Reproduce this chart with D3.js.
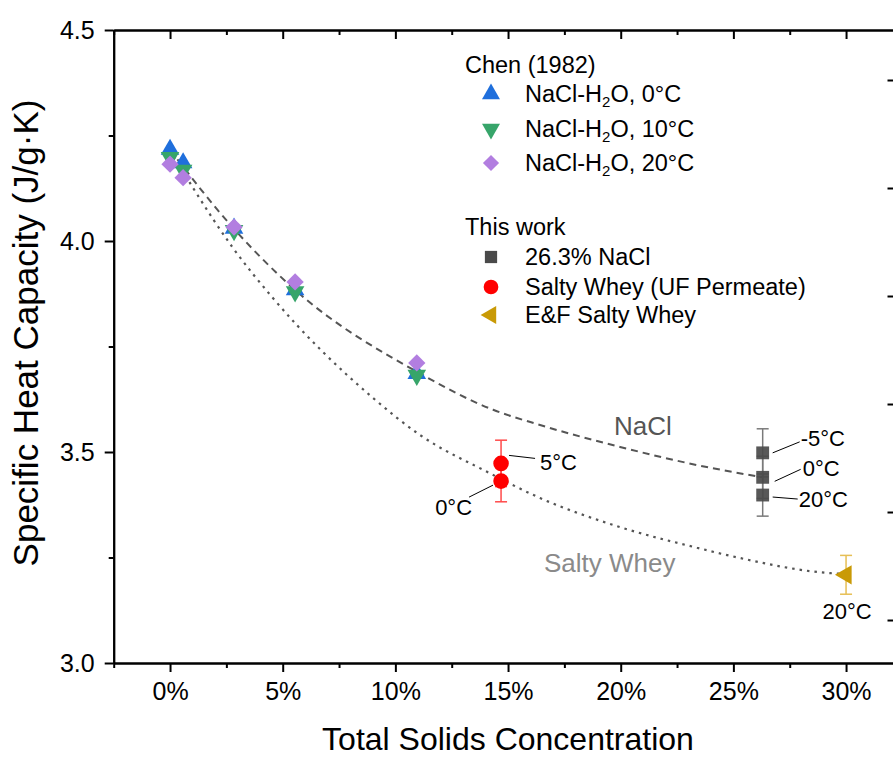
<!DOCTYPE html>
<html><head><meta charset="utf-8">
<script src="https://cdn.jsdelivr.net/npm/d3@7"></script>
<style>
body{margin:0;background:#fff;}
text{font-family:"Liberation Sans",Arial,sans-serif;}
</style></head>
<body><svg id="c" width="893" height="758"></svg>
<script>
// ---- data ----
const chenX = [0, 0.58, 2.84, 5.55, 10.95];
const chen0C = [4.217, 4.185, 4.030, 3.884, 3.686];
const chen10C = [4.198, 4.168, 4.025, 3.880, 3.682];
const chen20C = [4.182, 4.150, 4.033, 3.903, 3.711];

const naclX = 26.3;
const naclTemps = ["-5°C", "0°C", "20°C"];
const naclCp = [3.498, 3.440, 3.398];
const naclErr = [0.057, 0.05, 0.05];

const wheyX = 14.69;
const wheyTemps = ["0°C", "5°C"];
const wheyCp = [3.431, 3.473];
const wheyErr = [0.049, 0.055];

const efX = 30.0;
const efCp = 3.209;
const efErr = 0.046;

const naclFitX = [0, 2.80, 5.55, 10.96, 14.34, 16.42, 19.97, 23.39, 26.3];
const naclFitY = [4.216, 4.031, 3.884, 3.690, 3.600, 3.564, 3.512, 3.469, 3.440];
const wheyFitX = [0, 1.02, 2.80, 4.53, 9.01, 11.10, 14.07, 16.42, 19.97, 23.39, 24.86, 29.29, 30.0];
const wheyFitY = [4.216, 4.126, 3.983, 3.867, 3.628, 3.540, 3.453, 3.391, 3.322, 3.273, 3.254, 3.213, 3.211];

const xMajor = [0, 5, 10, 15, 20, 25, 30];
const xMinor = [-2.5, 2.5, 7.5, 12.5, 17.5, 22.5, 27.5];
const yMajor = [3.0, 3.5, 4.0, 4.5];
const yMinor = [3.25, 3.75, 4.25];
const rightTicks = [0, 1, 2, 3, 4, 5];

const colBlue = "#1f6fdc", colGreen = "#37a56a", colPurple = "#b27ee0",
      colGrey = "#4a4a4a", colRed = "#ff0000", colGold = "#c99a06";

// ---- scales ----
const svg = d3.select("#c");
const x = d3.scaleLinear().domain([-2.5, 32.15]).range([113.7, 894.5]);
const y = d3.scaleLinear().domain([3.0, 4.5]).range([663, 30]);
const yR = d3.scaleLinear().domain([-0.398, 5.463]).range([663, 30]);

// ---- axes ----
function styleAxis(g){ g.selectAll("path,line").attr("stroke","#000").attr("stroke-width",2); g.selectAll("text").attr("font-size",25).attr("fill","#000").attr("font-family","Liberation Sans, Arial, sans-serif"); }
svg.append("g").attr("transform",`translate(0,${y(3.0)})`)
  .call(d3.axisBottom(x).tickValues(xMajor).tickSize(9).tickSizeOuter(0).tickPadding(10).tickFormat(d=>d+"%")).call(styleAxis);
svg.append("g").attr("transform",`translate(0,${y(3.0)})`)
  .call(d3.axisBottom(x).tickValues(xMinor).tickSize(5).tickSizeOuter(0).tickFormat("")).call(styleAxis);
svg.append("g").attr("transform",`translate(0,${y(4.5)})`)
  .call(d3.axisBottom(x).tickValues(xMajor).tickSize(9).tickSizeOuter(0).tickFormat("")).call(styleAxis);
svg.append("g").attr("transform",`translate(0,${y(4.5)})`)
  .call(d3.axisBottom(x).tickValues(xMinor).tickSize(5).tickSizeOuter(0).tickFormat("")).call(styleAxis);
svg.append("g").attr("transform",`translate(${x(-2.5)},0)`)
  .call(d3.axisLeft(y).tickValues(yMajor).tickSize(9).tickSizeOuter(0).tickPadding(10).tickFormat(d3.format(".1f"))).call(styleAxis);
svg.append("g").attr("transform",`translate(${x(-2.5)},0)`)
  .call(d3.axisLeft(y).tickValues(yMinor).tickSize(5).tickSizeOuter(0).tickFormat("")).call(styleAxis);
svg.append("g").attr("transform",`translate(${x(32.15)},0)`)
  .call(d3.axisLeft(yR).tickValues(rightTicks).tickSize(7).tickSizeOuter(0).tickFormat("")).call(styleAxis);

svg.append("text").attr("x",508).attr("y",750).attr("text-anchor","middle")
  .attr("font-size",32).text("Total Solids Concentration");
svg.append("text").attr("transform",`translate(38,${333}) rotate(-90)`).attr("text-anchor","middle")
  .attr("font-size",35).text("Specific Heat Capacity (J/g·K)");

// ---- fit curves ----
const line = d3.line().x(d=>x(d[0])).y(d=>y(d[1])).curve(d3.curveMonotoneX);
svg.append("path").attr("d", line(wheyFitX.map((v,i)=>[v,wheyFitY[i]])))
  .attr("fill","none").attr("stroke","#555").attr("stroke-width",2.2).attr("stroke-dasharray","2.5,5");
svg.append("path").attr("d", line(naclFitX.map((v,i)=>[v,naclFitY[i]])))
  .attr("fill","none").attr("stroke","#555").attr("stroke-width",2).attr("stroke-dasharray","7,5");

// ---- symbols ----
const sym = (type,size)=>d3.symbol().type(type).size(size)();
function plot(xs, ys, type, size, color, rot){
  svg.append("g").selectAll("path").data(xs).join("path")
    .attr("d", sym(type,size))
    .attr("transform",(d,i)=>`translate(${x(d)},${y(ys[i])}) rotate(${rot||0})`)
    .attr("fill",color);
}
plot(chenX, chen0C, d3.symbolTriangle, 150, colBlue, 0);
plot(chenX, chen10C, d3.symbolTriangle, 150, colGreen, 180);
plot(chenX, chen20C, d3.symbolSquare, 150, colPurple, 45);

// error bars
function errbar(xv, yv, e, color){
  const g = svg.append("g").attr("stroke",color).attr("stroke-width",1.5);
  g.append("line").attr("x1",x(xv)).attr("x2",x(xv)).attr("y1",y(yv+e)).attr("y2",y(yv-e));
  g.append("line").attr("x1",x(xv)-6).attr("x2",x(xv)+6).attr("y1",y(yv+e)).attr("y2",y(yv+e));
  g.append("line").attr("x1",x(xv)-6).attr("x2",x(xv)+6).attr("y1",y(yv-e)).attr("y2",y(yv-e));
}
naclCp.forEach((v,i)=>errbar(naclX, v, naclErr[i], "#7a7a7a"));
wheyCp.forEach((v,i)=>errbar(wheyX, v, wheyErr[i], "#ff4a4a"));
errbar(efX, efCp, efErr, "#e6bf55");

svg.append("g").selectAll("path").data(naclCp).join("path")
  .attr("d", sym(d3.symbolSquare,165)).attr("transform",d=>`translate(${x(naclX)},${y(d)})`)
  .attr("fill",colGrey).attr("fill-opacity",0.92);
svg.append("g").selectAll("path").data(wheyCp).join("path")
  .attr("d", sym(d3.symbolCircle,190)).attr("transform",d=>`translate(${x(wheyX)},${y(d)})`)
  .attr("fill",colRed);
svg.append("path").attr("d", sym(d3.symbolTriangle,160))
  .attr("transform",`translate(${x(efX)},${y(efCp)}) rotate(-90)`).attr("fill",colGold);

// ---- point labels with leaders ----
function lbl(tx,ty,t,anchor){ svg.append("text").attr("x",tx).attr("y",ty).attr("font-size",22).attr("text-anchor",anchor||"start").text(t); }
function leader(x1,y1,x2,y2){ svg.append("line").attr("x1",x1).attr("y1",y1).attr("x2",x2).attr("y2",y2).attr("stroke","#000").attr("stroke-width",1); }
const nx = x(naclX);
leader(nx+10, y(naclCp[0]), nx+37, y(naclCp[0])-11); lbl(nx+38, y(naclCp[0])-7, naclTemps[0]);
leader(nx+12, y(naclCp[1])+4, nx+38, y(naclCp[1])-8); lbl(nx+40, y(naclCp[1])-1, naclTemps[1]);
leader(nx+10, y(naclCp[2])+2, nx+35, y(naclCp[2])+4); lbl(nx+36, y(naclCp[2])+12, naclTemps[2]);
const wx = x(wheyX);
leader(wx+8, y(wheyCp[1])-8, wx+34, y(wheyCp[1])-5); lbl(wx+39, y(wheyCp[1])+7, wheyTemps[1]);
leader(wx-8, y(wheyCp[0])+4, wx-32, y(wheyCp[0])+16); lbl(wx-29, y(wheyCp[0])+34, wheyTemps[0], "end");
lbl(x(efX)+1, y(efCp)+44, "20°C", "middle");

svg.append("text").attr("x",614).attr("y",435).attr("font-size",26).attr("fill","#555").text("NaCl");
svg.append("text").attr("x",544).attr("y",572).attr("font-size",26).attr("fill","#8a8a8a").text("Salty Whey");

// ---- legend ----
const lg = svg.append("g").attr("font-size",23.5);
lg.append("text").attr("x",465).attr("y",73).text("Chen (1982)");
const chenLeg = [["0°C",colBlue,d3.symbolTriangle,0,94],["10°C",colGreen,d3.symbolTriangle,180,129],["20°C",colPurple,d3.symbolSquare,45,163]];
chenLeg.forEach(([t,c,s,r,yy])=>{
  lg.append("path").attr("d",sym(s,s===d3.symbolSquare?130:140)).attr("transform",`translate(491,${yy}) rotate(${r})`).attr("fill",c);
  const tx = lg.append("text").attr("x",525).attr("y",yy+8);
  tx.append("tspan").text("NaCl-H");
  tx.append("tspan").attr("font-size",15).attr("dy",5).text("2");
  tx.append("tspan").attr("dy",-5).text("O, "+t);
});
lg.append("text").attr("x",465).attr("y",235).text("This work");
lg.append("path").attr("d",sym(d3.symbolSquare,150)).attr("transform","translate(491,257)").attr("fill",colGrey);
lg.append("text").attr("x",525).attr("y",265).text("26.3% NaCl");
lg.append("path").attr("d",sym(d3.symbolCircle,170)).attr("transform","translate(491,287)").attr("fill",colRed);
lg.append("text").attr("x",525).attr("y",295).text("Salty Whey (UF Permeate)");
lg.append("path").attr("d",sym(d3.symbolTriangle,140)).attr("transform","translate(491,315) rotate(-90)").attr("fill",colGold);
lg.append("text").attr("x",525).attr("y",323).text("E&F Salty Whey");
</script></body></html>
